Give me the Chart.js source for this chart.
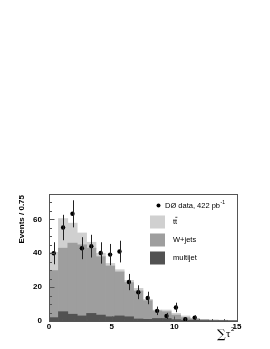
<!DOCTYPE html>
<html>
<head>
<meta charset="utf-8">
<script src="https://cdn.jsdelivr.net/npm/chart.js@4/dist/chart.umd.min.js"></script>
<style>
  html, body { margin: 0; padding: 0; background: #fff; }
  #wrap { width: 270px; height: 349px; }
</style>
</head>
<body>
<div id="wrap"><canvas id="histo" width="270" height="349"></canvas></div>
<script>
// bins of 0.75 from 0 to 15
const BIN_WIDTH = 0.75;
const multijet = [2, 5.5, 4, 3, 4.5, 3.5, 2.5, 3, 2.5, 1.2, 1, 1.5, 1.5, 0.8, 0.5, 0.5, 0.3, 0.2, 0.2, 0.1];
const wjets    = [27.8, 37.5, 42, 42, 38.5, 34.5, 30, 26, 20.2, 16.6, 11, 4.5, 4, 2.7, 1.5, 0.7, 0.5, 0.3, 0.2, 0.2];
const ttbar    = [10.8, 17.5, 11.8, 7, 3.5, 2, 1.5, 1.3, 1.3, 1.5, 0.8, 0.5, 1, 1, 1, 0.4, 0.2, 0.1, 0.1, 0.1];
const dataY    = [40, 55.2, 63.3, 43, 44.2, 40.2, 39.2, 41, 23, 17, 13.6, 6, 3, 8, 1, 2];
const dataErr  = [6.5, 7.5, 8, 6.5, 6.7, 6.3, 6.3, 6.4, 4.8, 4.1, 3.7, 2.5, 1.8, 2.8, 1, 1.4];
const xTicks = [0, 5, 10, 15];
const yTicks = [0, 20, 40, 60];

const COL_TT = '#d0d0d0';
const COL_W = '#9e9e9e';
const COL_MJ = '#525252';

function centre(i) { return i * BIN_WIDTH + BIN_WIDTH / 2; }
function asPoints(arr) { return arr.map((v, i) => ({ x: centre(i), y: v })); }

const FONT = "'Liberation Sans', Arial, sans-serif";

// frame, inward ticks, error bars, titles, legend
const decor = {
  id: 'decor',
  afterDatasetsDraw(chart) {
    const ctx = chart.ctx;
    const xs = chart.scales.x, ys = chart.scales.y;

    // error bars
    ctx.save();
    ctx.strokeStyle = '#222';
    ctx.lineWidth = 1;
    dataY.forEach((v, i) => {
      const px = Math.round(xs.getPixelForValue(centre(i))) + 0.5;
      ctx.beginPath();
      ctx.moveTo(px, ys.getPixelForValue(v - dataErr[i]));
      ctx.lineTo(px, ys.getPixelForValue(v + dataErr[i]));
      ctx.stroke();
    });
    ctx.restore();
  },
  afterDraw(chart) {
    const ctx = chart.ctx;
    const xs = chart.scales.x, ys = chart.scales.y;
    const a = chart.chartArea;
    ctx.save();
    ctx.strokeStyle = '#555';
    ctx.lineWidth = 1;
    const L = Math.round(a.left) + 0.5, R = Math.round(a.right) + 0.5;
    const T = Math.round(a.top) + 0.5, B = Math.round(a.bottom) + 0.5;
    ctx.strokeRect(L, T, R - L, B - T);

    // inward ticks
    ctx.beginPath();
    for (let v = 0; v <= 75; v += 5) {
      const py = Math.round(ys.getPixelForValue(v)) + 0.5;
      const len = (v % 20 === 0) ? 5 : 2.5;
      ctx.moveTo(L, py); ctx.lineTo(L + len, py);
    }
    for (let v = 0; v <= 15; v += 1) {
      const px = Math.round(xs.getPixelForValue(v)) + 0.5;
      const len = (v % 5 === 0) ? 5 : 2.5;
      ctx.moveTo(px, B); ctx.lineTo(px, B - len);
    }
    ctx.stroke();

    // axis titles
    ctx.fillStyle = '#000';
    ctx.font = 'bold 8px ' + FONT;
    ctx.save();
    ctx.translate(24, a.top + 1);
    ctx.rotate(-Math.PI / 2);
    ctx.textAlign = 'right';
    ctx.textBaseline = 'alphabetic';
    ctx.fillText('Events / 0.75', 0, 0);
    ctx.restore();

    ctx.textAlign = 'left';
    ctx.textBaseline = 'alphabetic';
    ctx.font = '12px "DejaVu Serif", serif';
    ctx.fillText('\u2211', 217, 338);
    ctx.font = '11px "Liberation Serif", serif';
    ctx.fillText('\u03c4', 226, 337);
    ctx.font = '6px ' + FONT;
    ctx.fillText('2', 231, 331);

    // legend
    ctx.fillStyle = '#000';
    ctx.beginPath();
    ctx.arc(158.5, 205.5, 2, 0, Math.PI * 2);
    ctx.fill();
    ctx.font = '7.5px ' + FONT;
    ctx.textBaseline = 'middle';
    ctx.fillText('D\u00d8 data, 422 pb', 165, 206);
    const w = ctx.measureText('D\u00d8 data, 422 pb').width;
    ctx.font = '5px ' + FONT;
    ctx.fillText('-1', 165 + w + 0.5, 202.5);

    const rows = [[COL_TT, 222], [COL_W, 240], [COL_MJ, 258]];
    rows.forEach(r => {
      ctx.fillStyle = r[0];
      ctx.fillRect(150, r[1] - 6.5, 15, 13);
    });
    ctx.fillStyle = '#000';
    ctx.font = '7.5px ' + FONT;
    ctx.fillText('tt', 173, 222);
    const tw = ctx.measureText('t').width;
    ctx.strokeStyle = '#000';
    ctx.lineWidth = 0.7;
    ctx.beginPath();
    ctx.moveTo(173 + tw + 0.2, 217.3);
    ctx.lineTo(173 + 2 * tw + 0.2, 217.3);
    ctx.stroke();
    ctx.fillText('W+jets', 173, 240);
    ctx.fillText('multijet', 173, 258);
    ctx.restore();
  }
};

const barCommon = {
  type: 'bar',
  barPercentage: 1.0,
  categoryPercentage: 1.0,
  borderWidth: 0,
  stack: 'mc',
  order: 2
};

new Chart(document.getElementById('histo'), {
  type: 'bar',
  data: {
    datasets: [
      Object.assign({ label: 'multijet', data: asPoints(multijet), backgroundColor: COL_MJ }, barCommon),
      Object.assign({ label: 'W+jets', data: asPoints(wjets), backgroundColor: COL_W }, barCommon),
      Object.assign({ label: 'ttbar', data: asPoints(ttbar), backgroundColor: COL_TT }, barCommon),
      {
        type: 'line',
        label: 'data',
        data: asPoints(dataY),
        showLine: false,
        pointRadius: 2.2,
        pointBackgroundColor: '#000',
        pointBorderWidth: 0,
        stack: 'pts',
        order: 0
      }
    ]
  },
  options: {
    responsive: false,
    animation: false,
    events: [],
    layout: { padding: { left: 0, top: 194, right: 33, bottom: 0 } },
    plugins: { legend: { display: false }, tooltip: { enabled: false } },
    scales: {
      x: {
        type: 'linear',
        stacked: true,
        offset: false,
        min: 0,
        max: 15,
        grid: { display: false, drawTicks: false, offset: false },
        border: { display: false },
        afterFit(s) { s.height = 28; },
        afterBuildTicks(s) { s.ticks = xTicks.map(v => ({ value: v })); },
        ticks: { padding: 1, color: '#000', font: { family: FONT, size: 8, weight: 'bold' } }
      },
      y: {
        stacked: true,
        min: 0,
        max: 75,
        grid: { display: false, drawTicks: false },
        border: { display: false },
        afterFit(s) { s.width = 49; },
        afterBuildTicks(s) { s.ticks = yTicks.map(v => ({ value: v })); },
        ticks: { padding: 7, color: '#000', font: { family: FONT, size: 8, weight: 'bold' } }
      }
    }
  },
  plugins: [decor]
});
</script>
</body>
</html>
